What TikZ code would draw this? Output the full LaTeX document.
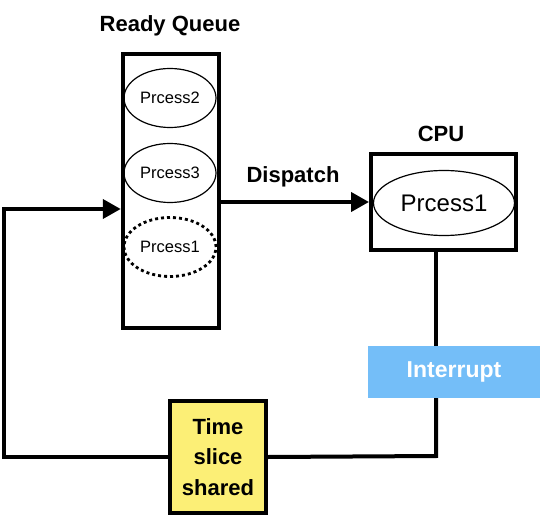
\documentclass[tikz,border=0pt]{standalone}
\usepackage{fontspec}
\setmainfont{Liberation Sans}
\usetikzlibrary{arrows.meta,positioning,shapes.geometric}
\usepackage{xcolor}
\definecolor{sliceyellow}{RGB}{252,239,118}
\definecolor{irqblue}{RGB}{116,190,248}
\definecolor{lineblack}{RGB}{0,0,0}

\begin{document}
\begin{tikzpicture}[x=1pt, y=-1pt,
  wire/.style={draw=lineblack, line width=4pt},
  flow/.style={wire, -{Triangle[length=18pt,width=19pt]}},
  heading/.style={font=\fontsize{22}{26}\selectfont\bfseries},
  proc/.style={ellipse, draw=lineblack, line width=1.2pt, inner sep=0pt, minimum width=92pt, minimum height=59pt, font=\fontsize{16.5}{19}\selectfont},
  holder/.style={rectangle, draw=lineblack, line width=4pt, inner sep=0pt}]
\useasboundingbox (0,0) rectangle (540,518);

% ready queue
\node[holder, minimum width=96.5pt, minimum height=273.5pt] (queue) at (171,191) {};
\node[heading] (queuetitle) at (170,26) {Ready Queue};
\node[proc] (p2) at (170,98) {Prcess2};
\node[proc] (p3) at (170,173) {Prcess3};
\node[proc, line width=2.8pt, dash pattern=on 3pt off 3pt] (p1) at (170,247) {Prcess1};

% cpu
\node[holder, minimum width=145pt, minimum height=96pt] (cpu) at (443.5,202) {};
\node[heading] (cputitle) at (441,134) {CPU};
\node[proc, minimum width=141pt, minimum height=65pt, font=\fontsize{24}{28}\selectfont] (run) at (444,203) {Prcess1};

\draw[flow] (queue.east |- cpu.west) -- (cpu.west);
\node[heading] (dispatch) at (293,177) {Dispatch};

% interrupt and time slice
\node[rectangle, fill=irqblue, minimum width=172pt, minimum height=52pt, text=white, font=\fontsize{23}{27}\selectfont\bfseries] (intr) at (454,372) {Interrupt};
\node[holder, fill=sliceyellow, minimum width=96pt, minimum height=112pt, align=center, font=\fontsize{22}{30.5}\selectfont\bfseries] (slice) at (218,457) {Time\\slice\\shared};

\coordinate (tap) at (436,456);
\coordinate (back) at (4,209);
\draw[wire] (tap |- cpu.south) -- (tap |- intr.north);
\draw[wire] (tap |- intr.south) -- (tap) -- (slice.east);
\draw[flow] (slice.west) -| (back) -- (back -| queue.west);
\end{tikzpicture}
\end{document}
